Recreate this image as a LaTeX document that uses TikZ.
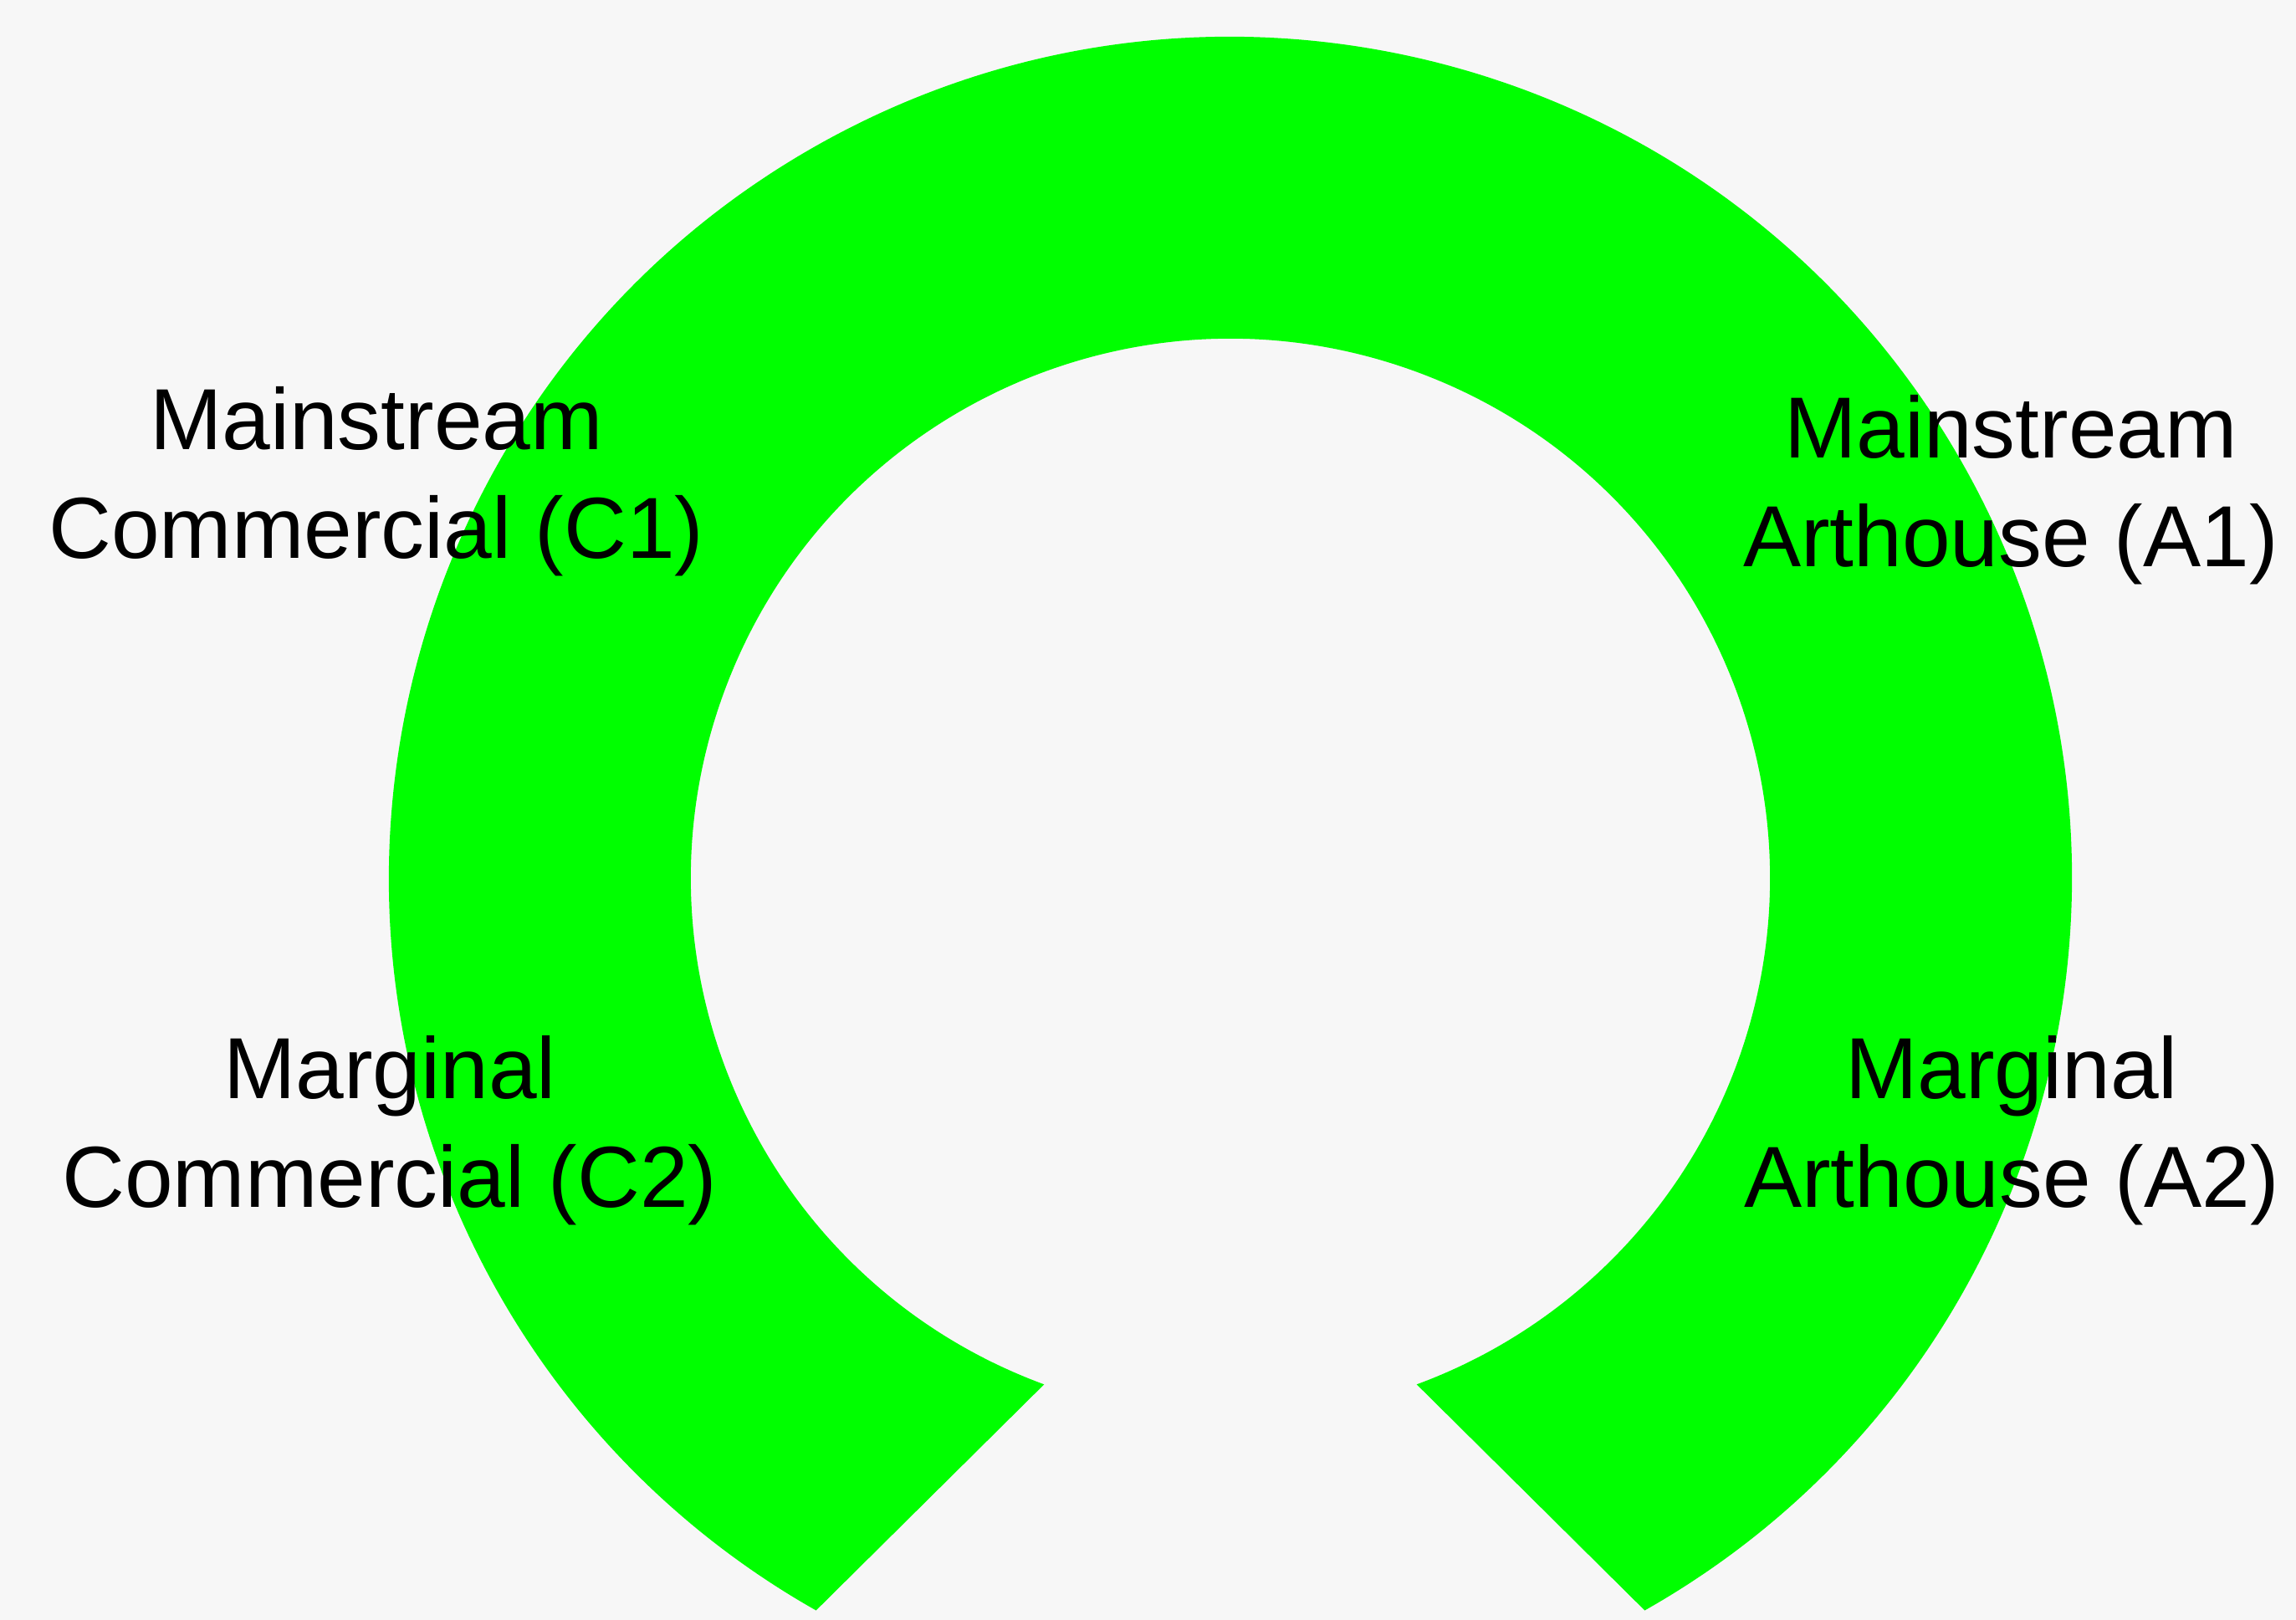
\documentclass[tikz,border=0pt]{standalone}
\usepackage{fontspec}
\setmainfont{Liberation Sans}
\definecolor{ringgreen}{RGB}{0,255,0}
\definecolor{paper}{RGB}{247,247,247}
\begin{document}
\begin{tikzpicture}[
    ring/.style={fill=ringgreen, draw=none},
    segment/.style={align=center, inner sep=0pt, font=\fontsize{29.5}{37}\selectfont, text=black}
]
\useasboundingbox (0,0) rectangle (27.45,19.37);
\fill[paper] (0,0) rectangle (27.45,19.37);
\coordinate (hub) at (14.71,8.87);

% horseshoe, open at the bottom
\fill[ring] ([shift={(-60.5:10.06)}]hub) arc[start angle=-60.5, end angle=240.5, radius=10.06]
    -- ([shift={(249.8:6.45)}]hub) arc[start angle=249.8, end angle=-69.8, radius=6.45] -- cycle;

\node[segment] (c1) at (4.50,13.61) {Mainstream\\Commercial (C1)};
\node[segment] (a1) at (24.04,13.51) {Mainstream\\Arthouse (A1)};
\node[segment] (c2) at (4.66,5.85) {Marginal\\Commercial (C2)};
\node[segment] (a2) at (24.05,5.85) {Marginal\\Arthouse (A2)};
\end{tikzpicture}
\end{document}
